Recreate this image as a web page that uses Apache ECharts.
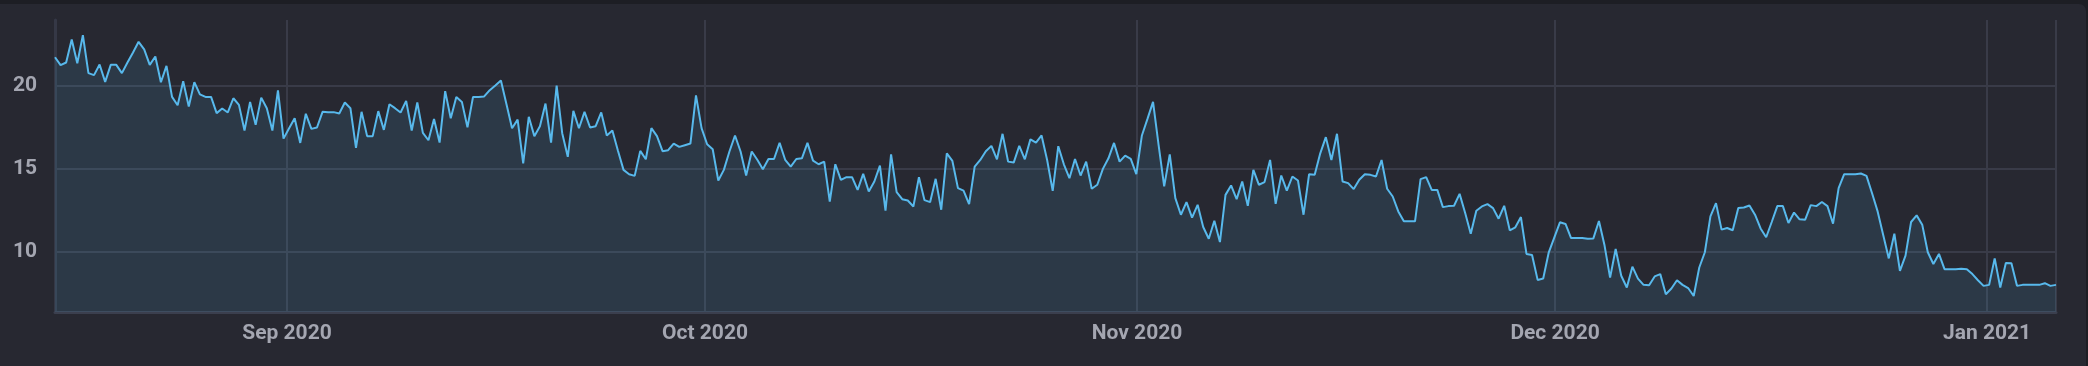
<!DOCTYPE html>
<html>
<head>
<meta charset="utf-8">
<script src="https://cdn.jsdelivr.net/npm/echarts@6/dist/echarts.min.js"></script>
<style>
  html, body { margin: 0; padding: 0; width: 2088px; height: 366px; overflow: hidden; background: #1d1e24; }
  #card { position: absolute; left: -10px; top: 4px; width: 2096px; height: 380px; background: #272831; border-radius: 7px; }
  #chart { position: absolute; left: 0; top: 0; width: 2088px; height: 366px; }
</style>
</head>
<body>
<div id="card"></div>
<div id="chart"></div>
<script>
// Sampling: first point time and spacing between points (hours)
const startTime = new Date(2020, 7, 15, 8, 24).getTime();
const stepHours = 9.6;

// Series values, in chronological order
const valuesPart1 = [21.75, 21.27, 21.43, 22.82, 21.39, 23.08, 20.79, 20.67, 21.31, 20.26,
  21.29, 21.29, 20.79, 21.43, 22.04, 22.68, 22.22, 21.29, 21.79, 20.24,
  21.23, 19.35, 18.85, 20.3, 18.77, 20.24, 19.5, 19.35, 19.35, 18.37,
  18.65, 18.41, 19.27, 18.87, 17.32, 19.05, 17.66, 19.31, 18.67, 17.32,
  19.74, 16.83, 17.46, 18.06, 16.57, 18.33, 17.42, 17.5, 18.45, 18.43, 18.43];
const valuesPart2 = [18.35, 19.01, 18.67, 16.27, 18.45, 16.98, 16.98, 18.49, 17.36, 18.91,
  18.67, 18.41, 19.11, 17.32, 19.01, 17.18, 16.73, 18.02, 16.59, 19.70,
  18.06, 19.35, 19.05, 17.52, 19.35, 19.35, 19.38, 19.76, 20.04, 20.34,
  18.91, 17.46, 17.98, 15.34, 18.15, 16.98, 17.58, 18.95, 16.59, 20.04,
  17.16, 15.73, 18.51, 17.46, 18.45, 17.5, 17.58, 18.41, 17.02, 17.32, 16.1];
const valuesPart3 = [14.94, 14.68, 14.58, 16.09, 15.58, 17.46, 16.98, 16.07, 16.13, 16.53,
  16.33, 16.43, 16.53, 19.44, 17.46, 16.49, 16.19, 14.30, 14.94, 16.05,
  17.02, 16.05, 14.6, 16.05, 15.55, 14.98, 15.6, 15.6, 16.57, 15.55,
  15.14, 15.6, 15.64, 16.57, 15.5, 15.28, 15.44, 13.03, 15.28, 14.34,
  14.5, 14.5, 13.73, 14.7, 13.63, 14.24, 15.2, 12.47, 15.88, 13.59, 13.17, 13.09];
const valuesPart4 = [12.73, 14.5, 13.11, 12.99, 14.4, 12.53, 15.94, 15.48, 13.84, 13.69,
  12.87, 15.14, 15.54, 16.07, 16.39, 15.58, 17.12, 15.44, 15.38, 16.39,
  15.58, 16.79, 16.59, 17.02, 15.54, 13.67, 16.37, 15.28, 14.44, 15.6,
  14.6, 15.44, 13.8, 14.04, 15.0, 15.64, 16.57, 15.44, 15.8, 15.6,
  14.68, 17.02, 18.02, 19.05, 16.43, 13.94, 15.88, 13.23, 12.23, 12.99, 12.05];
const valuesPart5 = [12.83, 11.49, 10.78, 11.87, 10.58, 13.43, 14.0, 13.17, 14.24, 12.77,
  14.94, 14.04, 14.2, 15.54, 12.89, 14.6, 13.69, 14.54, 14.3, 12.23,
  14.68, 14.64, 15.94, 16.92, 15.54, 17.12, 14.24, 14.14, 13.78, 14.34,
  14.68, 14.64, 14.54, 15.54, 13.8, 13.33, 12.43, 11.83, 11.83, 11.83,
  14.38, 14.5, 13.73, 13.73, 12.69, 12.75, 12.77, 13.49, 12.33, 11.08, 12.47];
const valuesPart6 = [12.73, 12.87, 12.63, 11.99, 12.77, 11.29, 11.47, 12.09, 9.86, 9.8,
  8.29, 8.37, 9.96, 10.86, 11.77, 11.67, 10.82, 10.82, 10.82, 10.78,
  10.8, 11.85, 10.38, 8.43, 10.16, 8.54, 7.83, 9.09, 8.37, 7.99,
  7.97, 8.5, 8.64, 7.42, 7.77, 8.27, 7.99, 7.8, 7.32, 9.04,
  9.96, 12.13, 12.93, 11.33, 11.43, 11.29, 12.63, 12.67, 12.79, 12.23, 11.4];
const valuesPart7 = [10.87, 11.79, 12.75, 12.75, 11.73, 12.36, 11.95, 11.93, 12.81, 12.75,
  13.0, 12.75, 11.69, 13.84, 14.68, 14.68, 14.68, 14.72, 14.58, 13.53,
  12.43, 11.0, 9.59, 11.08, 8.84, 9.76, 11.79, 12.19, 11.63, 9.96,
  9.25, 9.86, 8.94, 8.94, 8.94, 8.96, 8.94, 8.64, 8.27, 7.93,
  7.99, 9.59, 7.83, 9.31, 9.29, 7.93, 7.99, 7.99, 7.99, 7.99,
  8.09, 7.93, 7.99];

const monthNames = ['Jan', 'Feb', 'Mar', 'Apr', 'May', 'Jun', 'Jul', 'Aug', 'Sep', 'Oct', 'Nov', 'Dec'];
const yMin = 6.35;
const yMax = 24;

const values = [].concat(valuesPart1, valuesPart2, valuesPart3, valuesPart4, valuesPart5, valuesPart6, valuesPart7);
const seriesData = values.map((v, i) => [startTime + i * stepHours * 3600 * 1000, v]);

const chart = echarts.init(document.getElementById('chart'), null, { renderer: 'canvas' });
const gridColor = '#393b48';
const labelStyle = { color: '#a4a6b1', fontSize: 21, fontWeight: 'bold', fontFamily: 'Roboto, "Noto Sans", sans-serif' };
chart.setOption({
  backgroundColor: 'transparent',
  animation: false,
  grid: { left: 55, right: 32, top: 20, bottom: 54, containLabel: false },
  xAxis: {
    type: 'time',
    min: seriesData[0][0],
    max: seriesData[seriesData.length - 1][0],
    splitNumber: 5,
    minInterval: 28 * 86400000,
    maxInterval: 31 * 86400000,
    axisLine: { show: true, lineStyle: { color: '#3b3f4e', width: 3 } },
    axisTick: { show: false },
    splitLine: { show: true, lineStyle: { color: gridColor, width: 2 } },
    axisLabel: Object.assign({}, labelStyle, {
      margin: 11,
      hideOverlap: false,
      formatter: function (val) {
        const d = new Date(val);
        return monthNames[d.getMonth()] + ' ' + d.getFullYear();
      }
    })
  },
  yAxis: {
    type: 'value',
    min: yMin,
    max: yMax,
    splitNumber: 3,
    axisLine: { show: true, lineStyle: { color: '#353846', width: 3 } },
    axisTick: { show: false },
    splitLine: { show: true, showMinLine: false, showMaxLine: false, lineStyle: { color: gridColor, width: 2 } },
    axisLabel: Object.assign({}, labelStyle, { margin: 18, showMinLabel: false, showMaxLabel: false })
  },
  series: [{
    type: 'line',
    data: seriesData,
    symbol: 'none',
    lineStyle: { color: '#58b9ec', width: 2 },
    areaStyle: { color: 'rgba(88,185,236,0.17)' },
    itemStyle: { color: '#58b9ec' }
  }]
});
</script>
</body>
</html>
